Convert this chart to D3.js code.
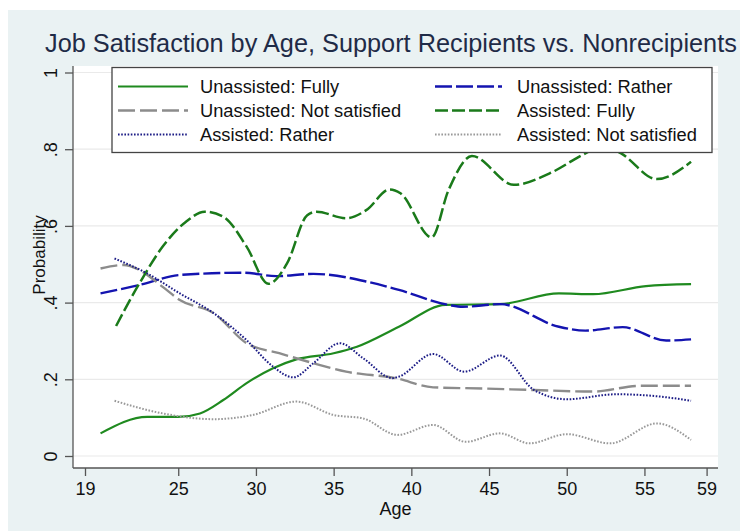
<!DOCTYPE html>
<html>
<head>
<meta charset="utf-8">
<title>Job Satisfaction by Age</title>
<script src="https://d3js.org/d3.v7.min.js"></script>
<style>
  html, body { margin: 0; padding: 0; background: #fff; }
  svg { display: block; font-family: "Liberation Sans", Arial, sans-serif; }
</style>
</head>
<body>
<script>
// values (age, predicted probability)
var ageUF  = [20, 23, 25, 26.4, 27.9, 29.4, 31.1, 32.6, 35, 36.5, 39.2, 42.2, 45.7, 49.5, 51.7, 55.1, 58];
var probUF = [0.059, 0.102, 0.102, 0.111, 0.146, 0.19, 0.229, 0.252, 0.268, 0.285, 0.337, 0.394, 0.396, 0.424, 0.422, 0.443, 0.448];

var ageUR  = [20, 22.5, 25.1, 29.2, 31.3, 33.7, 37.1, 39.2, 42.4, 43.3, 45.7, 49.5, 51.2, 53.6, 56.4, 58];
var probUR = [0.424, 0.446, 0.472, 0.478, 0.469, 0.475, 0.455, 0.433, 0.394, 0.389, 0.396, 0.337, 0.327, 0.336, 0.301, 0.304];

var ageUN  = [20, 21.5, 22.5, 24, 25.1, 27.3, 29.4, 31.5, 33.7, 35.8, 39, 41.4, 44.6, 47.9, 51.7, 54.7, 58];
var probUN = [0.489, 0.498, 0.485, 0.441, 0.407, 0.372, 0.294, 0.268, 0.242, 0.22, 0.203, 0.179, 0.176, 0.172, 0.168, 0.183, 0.183];

var ageAF  = [21, 22.5, 24, 25.5, 26.7, 27.9, 29.4, 30.8, 32, 33.3, 33.9, 35.8, 37.1, 38.6, 39.3, 41.3, 42.4, 43.9, 46.6, 48.9, 51.2, 52.4, 53.5, 55.8, 58];
var probAF = [0.339, 0.45, 0.546, 0.611, 0.637, 0.624, 0.546, 0.449, 0.502, 0.628, 0.637, 0.62, 0.641, 0.695, 0.685, 0.57, 0.694, 0.782, 0.707, 0.737, 0.789, 0.81, 0.789, 0.722, 0.767];

var ageAR  = [20.9, 23, 25.1, 27.3, 29.4, 31.1, 32.4, 33.7, 35.4, 36.9, 38.8, 39.2, 41.4, 43.4, 45.7, 47.9, 50, 53.2, 56, 58];
var probAR = [0.515, 0.476, 0.424, 0.372, 0.302, 0.233, 0.205, 0.242, 0.294, 0.255, 0.203, 0.207, 0.266, 0.22, 0.262, 0.172, 0.148, 0.161, 0.155, 0.144];

var ageAN  = [20.9, 24, 27.3, 29.8, 32.6, 35, 36.9, 39.1, 41.4, 43.5, 45.7, 47.6, 50, 52.8, 55.8, 58];
var probAN = [0.144, 0.111, 0.096, 0.107, 0.142, 0.107, 0.098, 0.055, 0.081, 0.037, 0.059, 0.033, 0.057, 0.033, 0.085, 0.042];

var seriesNames = ["Unassisted: Fully", "Unassisted: Rather", "Unassisted: Not satisfied",
                   "Assisted: Fully", "Assisted: Rather", "Assisted: Not satisfied"];
var xTicks = [19, 25, 30, 35, 40, 45, 50, 55, 59];
var yTicks = [0, 0.2, 0.4, 0.6, 0.8, 1];
var yTickLabels = ["0", ".2", ".4", ".6", ".8", "1"];

var W = 740, H = 531;
var plot = {left: 73, right: 718, top: 66, bottom: 468};

var x = d3.scaleLinear().domain([19, 59]).range([85, 706.6]);
var y = d3.scaleLinear().domain([0, 1]).range([456, 72.5]);

var styles = [
  {color: "#1f8a1f", dash: null,   width: 2.2},
  {color: "#1414b0", dash: "17,4", width: 2.4},
  {color: "#8c8c8c", dash: "17,5", width: 2.4},
  {color: "#1a7a1a", dash: "13,4", width: 2.5},
  {color: "#1c1c86", dash: "1.6,1.6", width: 2},
  {color: "#999999", dash: "1.6,1.6", width: 2}
];

var series = [
  {ages: ageUF, probs: probUF}, {ages: ageUR, probs: probUR}, {ages: ageUN, probs: probUN},
  {ages: ageAF, probs: probAF}, {ages: ageAR, probs: probAR}, {ages: ageAN, probs: probAN}
];

var svg = d3.select("body").append("svg")
    .attr("width", W)
    .attr("height", H);

svg.append("rect").attr("x", 8).attr("y", 10)
    .attr("width", W - 8).attr("height", H - 10)
    .attr("fill", "#eaf2f3");

svg.append("rect")
    .attr("x", plot.left).attr("y", plot.top)
    .attr("width", plot.right - plot.left).attr("height", plot.bottom - plot.top)
    .attr("fill", "#fff");

// grid
svg.append("g").selectAll("line").data(yTicks).enter().append("line")
    .attr("x1", plot.left).attr("x2", plot.right)
    .attr("y1", function(d) { return y(d); })
    .attr("y2", function(d) { return y(d); })
    .attr("stroke", "#eaeaea").attr("stroke-width", 1.2);

// lines
var line = d3.line()
    .x(function(d) { return x(d[0]); })
    .y(function(d) { return y(d[1]); })
    .curve(d3.curveMonotoneX);

series.forEach(function(s, i) {
  var pts = s.ages.map(function(a, j) { return [a, s.probs[j]]; });
  svg.append("path")
      .datum(pts)
      .attr("d", line)
      .attr("fill", "none")
      .attr("stroke", styles[i].color)
      .attr("stroke-width", styles[i].width)
      .attr("stroke-dasharray", styles[i].dash);
});

// axes
var xAxis = d3.axisBottom(x).tickValues(xTicks).tickSize(8).tickPadding(6).tickFormat(d3.format("d"));
var gx = svg.append("g").attr("transform", "translate(0," + plot.bottom + ")").call(xAxis);
gx.select(".domain").attr("d", "M" + plot.left + ",0H" + plot.right);

var yAxis = d3.axisLeft(y).tickValues(yTicks).tickSize(8).tickPadding(4)
    .tickFormat(function(d, i) { return yTickLabels[i]; });
var gy = svg.append("g").attr("transform", "translate(" + plot.left + ",0)").call(yAxis);
gy.select(".domain").attr("d", "M0," + plot.top + "V" + plot.bottom);
gy.selectAll(".tick text")
    .attr("transform", "rotate(-90)")
    .attr("x", function() { return 0; })
    .attr("y", -16)
    .attr("dy", 0)
    .attr("text-anchor", "middle");

[gx, gy].forEach(function(g) {
  g.selectAll(".domain").attr("stroke", "#555").attr("stroke-width", 1.3);
  g.selectAll(".tick line").attr("stroke", "#555").attr("stroke-width", 1.3);
  g.selectAll(".tick text").attr("fill", "#111").attr("font-size", 18)
      .attr("font-family", "Liberation Sans, Arial, sans-serif");
});

svg.append("text").attr("x", (plot.left + plot.right) / 2).attr("y", 515)
    .attr("text-anchor", "middle").attr("font-size", 18).attr("fill", "#111")
    .text("Age");

svg.append("text").attr("transform", "translate(45,255) rotate(-90)")
    .attr("text-anchor", "middle").attr("font-size", 17).attr("fill", "#111")
    .text("Probability");

// legend
var lg = svg.append("g");
lg.append("rect").attr("x", 112).attr("y", 67.5).attr("width", 600).attr("height", 85)
    .attr("fill", "#fff").attr("stroke", "#444").attr("stroke-width", 1.3);

var cols = [{x1: 118, x2: 188, tx: 200}, {x1: 435, x2: 502, tx: 517}];
var rows = [86.5, 110.5, 134.5];
seriesNames.forEach(function(name, i) {
  var c = cols[i % 2], r = rows[Math.floor(i / 2)];
  lg.append("line").attr("x1", c.x1).attr("x2", c.x2).attr("y1", r).attr("y2", r)
      .attr("stroke", styles[i].color).attr("stroke-width", styles[i].width)
      .attr("stroke-dasharray", styles[i].dash);
  lg.append("text").attr("x", c.tx).attr("y", r + 6.5)
      .attr("font-size", 18.3).attr("fill", "#111").text(name);
});

// title (kept just inside the right edge)
svg.append("text").attr("x", 45).attr("y", 52)
    .attr("font-size", 25.3).attr("fill", "#1f2b47")
    .text("Job Satisfaction by Age, Support Recipients vs. Nonrecipients");
</script>
</body>
</html>
